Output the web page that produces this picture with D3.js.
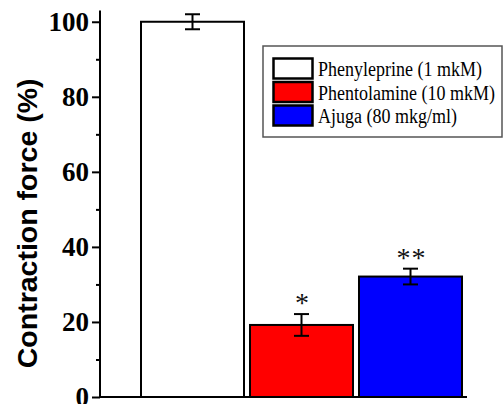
<!DOCTYPE html>
<html><head><meta charset="utf-8">
<script src="https://cdn.jsdelivr.net/npm/d3@7"></script>
<style>html,body{margin:0;padding:0;background:#fff;}svg{display:block;}</style>
</head><body>
<script>
const categories = ["Phenyleprine (1 mkM)", "Phentolamine (10 mkM)", "Ajuga (80 mkg/ml)"];
const values = [100, 19.2, 32.1];
const errors = [2.0, 2.9, 2.1];
const colors = ["#ffffff", "#ff0000", "#0000ff"];
const marks = ["", "*", "**"];
const majorTicks = [0, 20, 40, 60, 80, 100];
const minorTicks = [10, 30, 50, 70, 90];

const W = 504, H = 404;
const svg = d3.select("body").append("svg").attr("width", W).attr("height", H);

const y = d3.scaleLinear().domain([0, 103]).range([397, 10.5]);
const x = d3.scaleBand().domain(categories).range([141, 462]).paddingInner(0.055).paddingOuter(0);
const axX = 100;

// y axis
const yAxis = d3.axisLeft(y).tickValues(majorTicks).tickSize(8).tickPadding(3).tickFormat(d3.format("d"));
const gy = svg.append("g").attr("transform", `translate(${axX},0)`).call(yAxis);
gy.select(".domain").attr("stroke", "#000").attr("stroke-width", 2).attr("d", `M0,${y(0)}V${y(103)}`);
gy.selectAll(".tick line").attr("stroke", "#000").attr("stroke-width", 2);
gy.selectAll(".tick text").attr("font-family", "'Liberation Serif', 'Times New Roman', serif")
  .attr("font-weight", "bold").attr("font-size", 27).attr("fill", "#000").attr("dy", "0.33em");
const gyMinor = svg.append("g").attr("transform", `translate(${axX},0)`)
  .call(d3.axisLeft(y).tickValues(minorTicks).tickSize(4).tickFormat(""));
gyMinor.select(".domain").remove();
gyMinor.selectAll(".tick line").attr("stroke", "#000").attr("stroke-width", 2);

// x axis line
svg.append("line").attr("x1", axX - 1).attr("x2", 467).attr("y1", y(0)).attr("y2", y(0))
  .attr("stroke", "#000").attr("stroke-width", 2);

// y title
svg.append("text").attr("transform", `translate(37,${(y(0) + y(100)) / 2 + 14}) rotate(-90)`)
  .attr("text-anchor", "middle").attr("font-family", "'Liberation Sans', Arial, sans-serif")
  .attr("font-weight", "bold").attr("font-size", 28.5).attr("fill", "#000")
  .text("Contraction force (%)");

// bars
svg.selectAll("rect.bar").data(categories).enter().append("rect").attr("class", "bar")
  .attr("x", d => x(d)).attr("width", x.bandwidth())
  .attr("y", (d, i) => y(values[i])).attr("height", (d, i) => y(0) - y(values[i]))
  .attr("fill", (d, i) => colors[i]).attr("stroke", "#000").attr("stroke-width", 2);

// error bars
const capW = 15;
const eb = svg.selectAll("g.err").data(categories).enter().append("g").attr("class", "err");
eb.append("line").attr("x1", d => x(d) + x.bandwidth() / 2).attr("x2", d => x(d) + x.bandwidth() / 2)
  .attr("y1", (d, i) => y(values[i] + errors[i])).attr("y2", (d, i) => y(values[i] - errors[i]))
  .attr("stroke", "#000").attr("stroke-width", 2);
eb.append("line").attr("x1", d => x(d) + x.bandwidth() / 2 - capW / 2).attr("x2", d => x(d) + x.bandwidth() / 2 + capW / 2)
  .attr("y1", (d, i) => y(values[i] + errors[i])).attr("y2", (d, i) => y(values[i] + errors[i]))
  .attr("stroke", "#000").attr("stroke-width", 2);
eb.append("line").attr("x1", d => x(d) + x.bandwidth() / 2 - capW / 2).attr("x2", d => x(d) + x.bandwidth() / 2 + capW / 2)
  .attr("y1", (d, i) => y(values[i] - errors[i])).attr("y2", (d, i) => y(values[i] - errors[i]))
  .attr("stroke", "#000").attr("stroke-width", 2);

// significance marks
svg.selectAll("text.sig").data(categories).enter().append("text").attr("class", "sig")
  .attr("x", d => x(d) + x.bandwidth() / 2 + 1)
  .attr("y", (d, i) => y(values[i] + errors[i]) - 2)
  .attr("text-anchor", "middle").attr("font-family", "'Liberation Serif', 'Times New Roman', serif")
  .attr("font-size", 28).attr("fill", "#111").attr("letter-spacing", 1)
  .text((d, i) => marks[i]);

// legend
const lg = svg.append("g");
lg.append("rect").attr("x", 263).attr("y", 46).attr("width", 239).attr("height", 91)
  .attr("fill", "#fff").attr("stroke", "#555").attr("stroke-width", 1.5);
const rowH = 23.5;
categories.forEach((c, i) => {
  lg.append("rect").attr("x", 273.5).attr("y", 58.5 + i * rowH).attr("width", 39).attr("height", 20)
    .attr("fill", colors[i]).attr("stroke", "#000").attr("stroke-width", 2.5);
  lg.append("text").attr("transform", `translate(318,${68.5 + i * rowH}) scale(1,1.2)`)
    .attr("dy", "0.35em")
    .attr("font-family", "'Liberation Serif', 'Times New Roman', serif").attr("font-size", 18)
    .attr("fill", "#000").text(c);
});
</script>
</body></html>
